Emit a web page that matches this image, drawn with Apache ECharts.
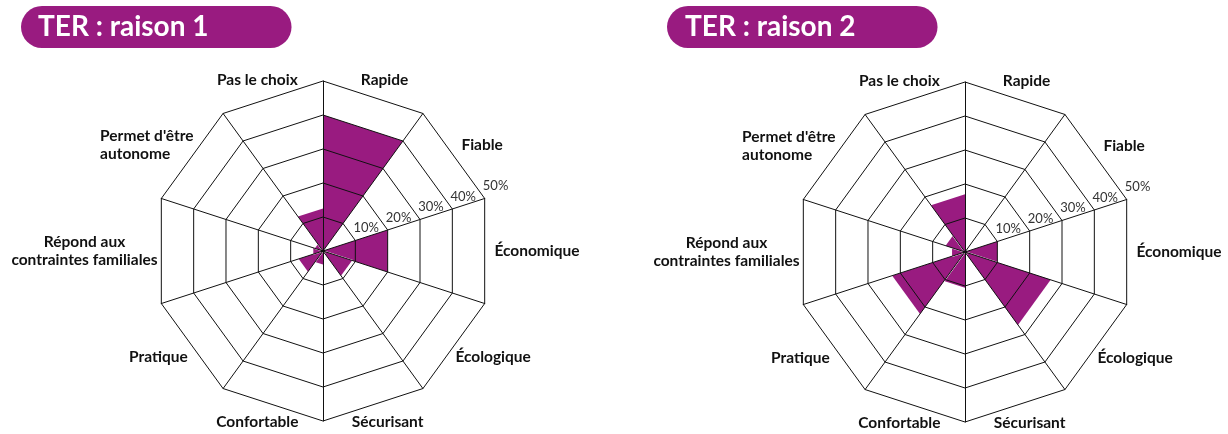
<!DOCTYPE html>
<html>
<head>
<meta charset="utf-8">
<script src="https://cdn.jsdelivr.net/npm/echarts@6/dist/echarts.min.js"></script>
<style>
  html, body { margin: 0; padding: 0; background: #fff; }
  #chart { width: 1228px; height: 434px; }
</style>
</head>
<body>
<div id="chart"></div>
<script>
// categories run clockwise from the top spoke
const categories = [
  'Rapide',
  'Fiable',
  'Économique',
  'Écologique',
  'Sécurisant',
  'Confortable',
  'Pratique',
  'Répond aux\ncontraintes familiales',
  "Permet d'être\nautonome",
  'Pas le choix',
];
const raison1 = [40, 0.5, 20, 9, 1, 4, 7.5, 3, 2.5, 12.5];
const raison2 = [0, 0.5, 10, 26.5, 1, 10.5, 22.5, 4, 6, 17];
const chartTitles = ['TER : raison 1', 'TER : raison 2'];
const scaleMax = 50;
const scaleSplit = 5;

const PURPLE = '#991b80';
const N = categories.length;
const STEP = 360 / N;
const RADIUS = 170;
const centers = [[323, 251], [965, 252]];
const labelFont = { family: 'Lato', size: 15.5, weight: 'bold' };
const leftAlignedLabels = ["Permet d'être\nautonome"];

// echarts radar goes counter-clockwise, the picture goes clockwise
function spokeIndex(k) {
  return (N - (k % N)) % N;
}

const measureCtx = document.createElement('canvas').getContext('2d');
measureCtx.font = `${labelFont.weight} ${labelFont.size}px "${labelFont.family}"`;
function textWidth(str) {
  return Math.max(...str.split('\n').map((l) => measureCtx.measureText(l).width));
}

// each category is a wedge between two neighbouring spokes
function wedgeData(values) {
  return values.map((v, i) => {
    const arr = new Array(N).fill(0);
    arr[spokeIndex(i)] = v;
    arr[spokeIndex(i + 1)] = v;
    return { name: categories[i], value: arr };
  });
}

// push names outward horizontally, more so for the ones at the sides
const nameRich = {};
categories.forEach((name, i) => {
  const s = Math.sin(((i + 0.5) * STEP * Math.PI) / 180);
  const pad = Math.round(textWidth(name) * Math.abs(s) * 0.8);
  nameRich['c' + i] = {
    fontFamily: labelFont.family,
    fontSize: labelFont.size,
    fontWeight: labelFont.weight,
    color: '#111',
    lineHeight: 17.5,
    padding: s > 0 ? [0, 0, 0, pad] : [0, pad, 0, 0],
    align: leftAlignedLabels.includes(name) ? 'left' : undefined,
  };
});

function gridRadar(center) {
  return {
    center,
    radius: RADIUS,
    startAngle: 90,
    shape: 'polygon',
    splitNumber: scaleSplit,
    z: 5,
    indicator: categories.map((c, j) => {
      const ind = { name: '', min: 0, max: scaleMax };
      if (j === spokeIndex(2)) {
        ind.axisLabel = {
          show: true,
          showMinLabel: false,
          formatter: '{value}%',
          align: 'left',
          verticalAlign: 'bottom',
          margin: 6,
          fontFamily: 'Lato',
          fontSize: 13,
          color: '#333',
        };
      }
      return ind;
    }),
    axisName: { show: false },
    axisLine: { lineStyle: { color: '#111', width: 1 } },
    splitLine: { lineStyle: { color: '#111', width: 1 } },
    splitArea: { show: false },
    axisTick: { show: false },
    axisLabel: { show: false },
  };
}

function nameRadar(center) {
  return {
    center,
    radius: RADIUS,
    startAngle: 90 - STEP / 2,
    shape: 'polygon',
    splitNumber: scaleSplit,
    indicator: categories.map((c, j) => ({ name: categories[spokeIndex(j)], min: 0, max: scaleMax })),
    axisNameGap: 10,
    axisName: {
      show: true,
      align: 'center',
      verticalAlign: 'middle',
      color: '#111',
      fontFamily: labelFont.family,
      fontSize: labelFont.size,
      fontWeight: labelFont.weight,
      rich: nameRich,
      formatter(name) {
        const idx = categories.indexOf(name);
        return name
          .split('\n')
          .map((l) => `{c${idx}|${l}}`)
          .join('\n');
      },
    },
    axisLine: { show: false },
    splitLine: { show: false },
    splitArea: { show: false },
    axisTick: { show: false },
    axisLabel: { show: false },
  };
}

function pillTitle(text, left, padLeft) {
  return {
    text,
    left,
    top: 6,
    backgroundColor: PURPLE,
    borderRadius: 21,
    padding: [6, 270 - padLeft - 170, 6, padLeft],
    textStyle: { color: '#fff', fontFamily: 'Lato', fontWeight: 'bold', fontSize: 28, lineHeight: 30 },
  };
}

function wedgeSeries(radarIndex, values) {
  return {
    type: 'radar',
    radarIndex,
    symbol: 'none',
    silent: true,
    lineStyle: { color: '#fff', width: 1.5 },
    areaStyle: { color: PURPLE, opacity: 1 },
    itemStyle: { color: PURPLE },
    data: wedgeData(values),
  };
}

const chart = echarts.init(document.getElementById('chart'), null, { renderer: 'canvas' });
chart.setOption({
  animation: false,
  backgroundColor: '#fff',
  title: [pillTitle(chartTitles[0], 21, 17), pillTitle(chartTitles[1], 667, 18)],
  radar: [gridRadar(centers[0]), nameRadar(centers[0]), gridRadar(centers[1]), nameRadar(centers[1])],
  series: [wedgeSeries(0, raison1), wedgeSeries(2, raison2)],
});
</script>
</body>
</html>
